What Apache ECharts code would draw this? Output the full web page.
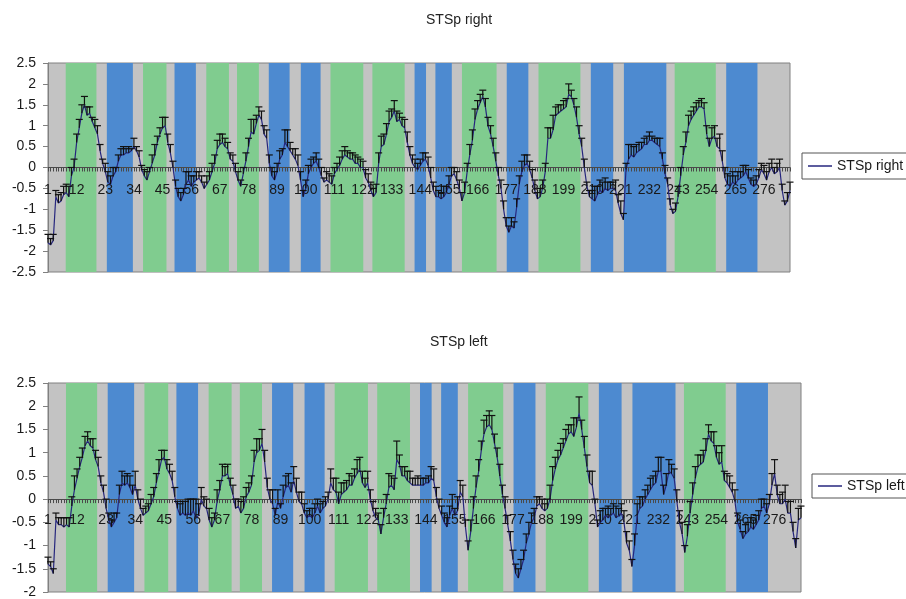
<!DOCTYPE html>
<html>
<head>
<meta charset="utf-8">
<script src="https://cdn.jsdelivr.net/npm/echarts@6/dist/echarts.min.js"></script>
<style>
html,body{margin:0;padding:0;background:#fff;}
#chart{width:906px;height:599px;}
</style>
</head>
<body>
<div id="chart"></div>
<script>
// ---- data ----
const seriesNames = ['STSp right', 'STSp left'];

const rightMean = [
 -1.8,-1.85,-1.75,-0.7,-0.85,-0.8,-0.65,-0.6,-0.7,-0.2,
 0.0,0.6,0.95,1.3,1.5,1.25,1.3,1.1,0.95,0.8,
 0.4,0.1,-0.1,-0.35,-0.4,-0.2,-0.1,0.15,0.3,0.3,
 0.35,0.35,0.4,0.5,0.4,0.25,-0.05,-0.2,-0.3,-0.1,
 0.1,0.3,0.6,0.8,0.95,1.0,0.6,0.35,0.0,-0.45,
 -0.7,-0.8,-0.65,-0.4,-0.3,-0.45,-0.35,-0.3,-0.25,-0.35,
 -0.5,-0.4,-0.3,-0.1,0.1,0.45,0.55,0.6,0.5,0.45,
 0.2,0.15,-0.1,-0.3,-0.45,-0.15,0.15,0.5,0.85,0.8,
 1.05,1.25,1.15,0.8,0.7,0.1,-0.2,-0.3,-0.1,0.2,
 0.3,0.6,0.5,0.4,0.3,0.2,0.05,-0.3,-0.7,-0.5,
 -0.15,0.0,0.1,0.15,0.0,-0.2,-0.35,-0.3,-0.35,-0.4,
 -0.15,-0.05,0.05,0.2,0.3,0.25,0.2,0.2,0.1,0.1,
 0.0,0.0,-0.25,-0.35,-0.55,-0.7,-0.6,0.1,0.5,0.55,
 0.8,1.1,1.2,1.35,1.1,1.15,1.0,0.95,0.6,0.3,
 0.1,0.0,-0.05,0.05,0.15,0.2,0.05,-0.25,-0.55,-0.7,
 -0.7,-0.75,-0.7,-0.6,-0.4,-0.2,-0.15,-0.3,-0.5,-0.8,
 -0.6,-0.1,0.3,0.65,1.15,1.4,1.55,1.7,1.45,1.0,
 0.8,0.5,0.15,-0.2,-0.5,-1.0,-1.4,-1.55,-1.4,-1.45,
 -0.95,-0.4,-0.1,0.05,0.1,-0.05,-0.25,-0.55,-0.75,-0.7,
 -0.5,-0.1,0.7,0.7,0.9,1.25,1.3,1.35,1.4,1.45,
 1.75,1.7,1.5,1.2,0.8,0.5,0.0,-0.45,-0.7,-0.75,
 -0.8,-0.65,-0.55,-0.6,-0.5,-0.55,-0.5,-0.5,-0.55,-0.85,
 -1.1,-1.25,-0.05,0.2,0.3,0.25,0.35,0.4,0.45,0.55,
 0.55,0.65,0.65,0.6,0.55,0.5,0.2,-0.15,-0.4,-0.9,
 -1.1,-1.05,-0.7,-0.2,0.3,0.6,1.0,1.15,1.25,1.35,
 1.45,1.45,1.4,0.8,0.5,0.7,0.75,0.5,0.45,0.15,
 -0.25,-0.4,-0.45,-0.35,-0.4,-0.3,-0.25,-0.2,-0.1,-0.25,
 -0.4,-0.45,-0.4,-0.25,-0.05,-0.15,-0.3,-0.1,0.0,-0.15,
 -0.1,0.0,-0.55,-0.9,-0.8,-0.55
];
const rightErr = [
 0.2,0.15,0.15,0.15,0.2,0.2,0.2,0.2,0.25,0.2,
 0.2,0.2,0.2,0.2,0.2,0.2,0.15,0.1,0.2,0.2,
 0.15,0.1,0.2,0.25,0.2,0.2,0.1,0.15,0.15,0.2,
 0.1,0.15,0.05,0.2,0.1,0.15,0.1,0.15,0.2,0.1,
 0.2,0.25,0.15,0.15,0.25,0.2,0.2,0.2,0.15,0.15,
 0.2,0.2,0.15,0.3,0.2,0.25,0.15,0.2,0.15,0.15,
 0.15,0.2,0.2,0.2,0.2,0.2,0.25,0.2,0.2,0.15,
 0.15,0.15,0.2,0.2,0.15,0.15,0.2,0.2,0.3,0.35,
 0.2,0.2,0.2,0.2,0.2,0.2,0.2,0.2,0.2,0.2,
 0.15,0.3,0.4,0.2,0.15,0.25,0.25,0.2,0.15,0.2,
 0.2,0.2,0.15,0.2,0.2,0.2,0.1,0.2,0.2,0.2,
 0.15,0.15,0.2,0.2,0.2,0.15,0.15,0.15,0.2,0.15,
 0.2,0.15,0.2,0.2,0.2,0.2,0.2,0.25,0.25,0.25,
 0.25,0.25,0.2,0.25,0.25,0.15,0.2,0.2,0.25,0.2,
 0.2,0.2,0.15,0.15,0.2,0.15,0.2,0.25,0.2,0.25,
 0.15,0.15,0.25,0.15,0.2,0.2,0.15,0.2,0.2,0.2,
 0.25,0.2,0.25,0.25,0.25,0.2,0.2,0.15,0.2,0.2,
 0.2,0.2,0.2,0.2,0.2,0.2,0.2,0.15,0.2,0.15,
 0.2,0.2,0.25,0.25,0.2,0.2,0.2,0.25,0.15,0.2,
 0.2,0.2,0.25,0.25,0.35,0.2,0.2,0.15,0.2,0.2,
 0.25,0.15,0.15,0.25,0.2,0.2,0.2,0.1,0.15,0.2,
 0.35,0.2,0.25,0.25,0.25,0.2,0.15,0.15,0.25,0.2,
 0.3,0.15,0.15,0.35,0.25,0.25,0.2,0.2,0.15,0.15,
 0.2,0.2,0.1,0.1,0.15,0.2,0.15,0.2,0.15,0.15,
 0.1,0.2,0.25,0.2,0.2,0.25,0.25,0.2,0.2,0.2,
 0.15,0.2,0.15,0.2,0.2,0.25,0.25,0.2,0.35,0.25,
 0.25,0.25,0.25,0.25,0.2,0.2,0.15,0.25,0.15,0.2,
 0.15,0.15,0.2,0.2,0.15,0.2,0.2,0.2,0.2,0.15,
 0.2,0.2,0.15,0.1,0.2,0.2
];
const leftMean = [
 -1.4,-1.45,-1.6,-0.45,-0.55,-0.55,-0.6,-0.55,-0.6,-0.15,
 0.2,0.45,0.7,0.9,1.15,1.25,1.15,1.1,0.85,0.7,
 0.35,0.15,-0.2,-0.45,-0.6,-0.5,-0.4,0.1,0.35,0.3,
 0.35,0.25,0.1,0.3,0.0,-0.2,-0.35,-0.3,-0.25,-0.1,
 0.05,0.35,0.6,0.85,0.9,0.65,0.55,0.4,0.05,-0.2,
 -0.35,-0.3,-0.35,-0.3,-0.35,-0.25,-0.4,-0.35,0.0,-0.15,
 -0.2,-0.45,-0.6,-0.45,-0.05,0.2,0.5,0.5,0.55,0.3,
 0.1,-0.2,-0.15,-0.3,-0.2,0.05,0.15,0.3,0.8,1.0,
 1.05,1.2,0.8,0.25,0.0,-0.1,-0.35,-0.05,-0.2,0.05,
 0.25,0.3,0.15,0.4,0.15,-0.05,-0.1,-0.3,-0.4,-0.35,
 -0.4,-0.3,-0.15,-0.3,-0.2,-0.15,0.0,0.35,0.2,0.15,
 -0.1,0.1,0.15,0.2,0.3,0.3,0.45,0.55,0.65,0.35,
 0.25,0.35,0.0,-0.25,-0.4,-0.45,-0.75,-0.4,-0.1,0.25,
 0.3,0.2,0.85,0.75,0.5,0.5,0.4,0.35,0.3,0.3,
 0.3,0.3,0.3,0.35,0.35,0.45,0.4,0.05,-0.2,-0.35,
 -0.5,-0.6,-0.35,-0.2,-0.35,-0.25,0.15,0.05,-0.6,-1.1,
 -0.7,-0.2,0.25,0.6,1.05,1.4,1.55,1.6,1.5,1.2,
 0.9,0.5,0.1,-0.2,-0.55,-0.9,-1.3,-1.6,-1.7,-1.5,
 -1.3,-0.95,-0.75,-0.5,-0.4,-0.15,-0.1,-0.2,-0.25,-0.2,
 0.0,0.4,0.65,0.85,0.95,1.1,1.25,1.4,1.45,1.35,
 1.55,1.85,1.5,1.1,0.7,0.35,0.3,-0.1,-0.6,-0.5,
 -0.45,-0.35,-0.4,-0.35,-0.3,-0.4,-0.35,-0.3,-0.5,-0.95,
 -1.1,-1.45,-1.0,-0.35,-0.2,-0.15,0.0,0.1,0.2,0.3,
 0.35,0.6,0.6,0.1,0.3,0.6,0.55,0.45,-0.05,-0.5,
 -0.75,-1.15,-0.8,-0.3,0.1,0.45,0.7,0.75,0.8,1.05,
 1.4,1.25,1.2,0.9,0.75,0.8,0.4,0.35,0.25,0.15,
 -0.05,-0.5,-0.65,-0.85,-0.75,-0.7,-0.6,-0.65,-0.55,-0.45,
 -0.2,-0.15,-0.3,-0.1,0.3,0.55,0.1,-0.1,-0.1,0.0,
 -0.3,-0.3,-0.7,-1.05,-0.45,-0.4
];
const leftErr = [
 0.15,0.1,0.1,0.15,0.15,0.15,0.2,0.15,0.2,0.2,
 0.3,0.2,0.2,0.2,0.2,0.2,0.15,0.2,0.2,0.2,
 0.15,0.15,0.2,0.15,0.15,0.2,0.1,0.2,0.25,0.2,
 0.2,0.25,0.2,0.3,0.2,0.2,0.15,0.15,0.15,0.2,
 0.2,0.2,0.25,0.2,0.15,0.2,0.2,0.2,0.2,0.15,
 0.25,0.25,0.3,0.3,0.35,0.25,0.4,0.25,0.25,0.2,
 0.2,0.25,0.2,0.15,0.25,0.2,0.25,0.2,0.2,0.15,
 0.2,0.2,0.15,0.25,0.25,0.2,0.2,0.2,0.25,0.3,
 0.25,0.3,0.25,0.2,0.2,0.3,0.15,0.25,0.1,0.25,
 0.25,0.25,0.2,0.3,0.3,0.2,0.25,0.2,0.15,0.15,
 0.2,0.2,0.15,0.2,0.15,0.2,0.15,0.3,0.25,0.3,
 0.25,0.25,0.2,0.2,0.25,0.2,0.2,0.3,0.25,0.25,
 0.2,0.25,0.2,0.2,0.2,0.15,0.2,0.2,0.2,0.3,
 0.2,0.25,0.4,0.2,0.2,0.2,0.2,0.25,0.15,0.15,
 0.2,0.15,0.15,0.1,0.15,0.25,0.25,0.2,0.2,0.2,
 0.2,0.2,0.2,0.3,0.15,0.3,0.25,0.25,0.15,0.2,
 0.25,0.25,0.25,0.25,0.2,0.3,0.25,0.3,0.3,0.2,
 0.2,0.25,0.2,0.25,0.2,0.2,0.2,0.2,0.2,0.2,
 0.2,0.2,0.25,0.2,0.2,0.2,0.15,0.2,0.15,0.2,
 0.3,0.3,0.25,0.2,0.25,0.2,0.25,0.2,0.15,0.4,
 0.2,0.35,0.2,0.25,0.25,0.25,0.3,0.1,0.15,0.25,
 0.25,0.15,0.25,0.15,0.2,0.25,0.15,0.2,0.25,0.25,
 0.2,0.15,0.25,0.25,0.25,0.2,0.2,0.2,0.25,0.2,
 0.25,0.3,0.3,0.2,0.25,0.25,0.2,0.2,0.25,0.25,
 0.25,0.15,0.25,0.25,0.25,0.25,0.25,0.2,0.25,0.25,
 0.2,0.2,0.25,0.25,0.25,0.35,0.2,0.2,0.25,0.2,
 0.25,0.2,0.2,0.15,0.2,0.2,0.2,0.2,0.2,0.2,
 0.2,0.15,0.2,0.2,0.25,0.3,0.2,0.2,0.25,0.3,
 0.25,0.25,0.2,0.2,0.25,0.25
];

// condition blocks (in point-index units, 0 = point 1)
const bandStart = [6.8,22.6,36.5,48.6,60.8,72.6,84.8,97.1,108.5,124.6,140.8,148.8,159,176.2,188.4,208.5,221.2,240.7,260.5];
const bandEnd   = [18.6,32.6,45.5,56.8,69.5,81,92.8,104.7,121.1,137,145.2,155.1,172.3,184.5,204.5,217.1,237.5,256.5,272.5];
const bandKind  = ['G','B','G','B','G','G','B','B','G','G','B','B','G','B','G','B','B','G','B'];

const labelStep = 11;   // x tick labels: 1, 12, 23, ... 276

// ---- chart ----
const FONT = 'Liberation Sans, Arial, sans-serif';
const bandColor = {G: '#80cc8f', B: '#4d8ad0'};
const lineColor = '#26267e';

function bandsData() {
  return bandStart.map((s, k) => [
    {xAxis: s, itemStyle: {color: bandColor[bandKind[k]], opacity: 1}},
    {xAxis: bandEnd[k]}
  ]);
}

function errRender(params, api) {
  const x = api.value(0), y = api.value(1), e = api.value(2);
  const p0 = api.coord([x, y]);
  const p1 = api.coord([x, y + e]);
  const hw = 3.5;
  const st = {stroke: '#111', lineWidth: 1.2};
  return {
    type: 'group',
    children: [
      {type: 'line', shape: {x1: p0[0], y1: p0[1], x2: p1[0], y2: p1[1]}, style: st},
      {type: 'line', shape: {x1: p1[0] - hw, y1: p1[1], x2: p1[0] + hw, y2: p1[1]}, style: st}
    ]
  };
}

function makeX(gridIndex, margin) {
  return {
    type: 'value', gridIndex: gridIndex, min: 0, max: rightMean.length - 1, interval: labelStep,
    z: 2,
    axisLine: {show: true, onZero: true, lineStyle: {color: '#4a4a4a', width: 1}},
    axisTick: {show: true, length: 4, lineStyle: {color: '#4a4a4a'}},
    minorTick: {show: true, splitNumber: labelStep, length: 4, lineStyle: {color: '#4a4a4a'}},
    splitLine: {show: false},
    minorSplitLine: {show: false},
    axisLabel: {
      show: true, margin: margin, fontSize: 14, fontFamily: FONT, color: '#1a1a1a',
      showMaxLabel: false, hideOverlap: false,
      formatter: v => String(v + 1)
    }
  };
}
function makeY(gridIndex, min, max) {
  return {
    type: 'value', gridIndex: gridIndex, min: min, max: max, interval: 0.5,
    z: 2,
    axisLine: {show: true, onZero: false, lineStyle: {color: '#808080'}},
    axisTick: {show: true, length: 5, lineStyle: {color: '#808080'}},
    splitLine: {show: false},
    axisLabel: {fontSize: 14, fontFamily: FONT, color: '#1a1a1a', margin: 12}
  };
}

const chart = echarts.init(document.getElementById('chart'), null, {renderer: 'canvas'});
chart.setOption({
  animation: false,
  backgroundColor: '#ffffff',
  title: [
    {text: seriesNames[0], left: 421, top: 8, textStyle: {fontSize: 14, fontWeight: 'normal', fontFamily: FONT, color: '#222'}},
    {text: seriesNames[1], left: 425, top: 330, textStyle: {fontSize: 14, fontWeight: 'normal', fontFamily: FONT, color: '#222'}}
  ],
  legend: [
    {data: [seriesNames[0]], left: 802, top: 153, padding: [6, 6, 6, 6], icon: 'rect', itemWidth: 24, itemHeight: 1.5,
     borderColor: '#555', borderWidth: 1, backgroundColor: '#fff', borderRadius: 0,
     textStyle: {fontSize: 14, fontFamily: FONT, color: '#1a1a1a'}},
    {data: [seriesNames[1]], left: 812, top: 474, padding: [5, 6, 5, 6], icon: 'rect', itemWidth: 24, itemHeight: 1.5,
     borderColor: '#555', borderWidth: 1, backgroundColor: '#fff', borderRadius: 0,
     textStyle: {fontSize: 14, fontFamily: FONT, color: '#1a1a1a'}}
  ],
  grid: [
    {left: 48, right: 116, top: 63, height: 209, show: true, backgroundColor: '#c3c3c3', borderColor: '#808080', borderWidth: 1, containLabel: false, outerBoundsMode: 'none'},
    {left: 48, right: 105, top: 383, height: 209, show: true, backgroundColor: '#c3c3c3', borderColor: '#808080', borderWidth: 1, containLabel: false, outerBoundsMode: 'none'}
  ],
  xAxis: [makeX(0, -89), makeX(1, -79)],
  yAxis: [makeY(0, -2.5, 2.5), makeY(1, -2, 2.5)],
  series: [
    {
      name: seriesNames[0], type: 'line', xAxisIndex: 0, yAxisIndex: 0,
      data: rightMean.map((v, i) => [i, v]),
      symbol: 'none', lineStyle: {color: lineColor, width: 1.2}, itemStyle: {color: lineColor}, z: 3,
      markArea: {silent: true, z: 1, data: bandsData()}
    },
    {
      name: 'errR', type: 'custom', xAxisIndex: 0, yAxisIndex: 0, z: 4,
      data: rightMean.map((v, i) => [i, v, rightErr[i]]),
      encode: {x: 0, y: 1}, renderItem: errRender, silent: true
    },
    {
      name: seriesNames[1], type: 'line', xAxisIndex: 1, yAxisIndex: 1,
      data: leftMean.map((v, i) => [i, v]),
      symbol: 'none', lineStyle: {color: lineColor, width: 1.2}, itemStyle: {color: lineColor}, z: 3,
      markArea: {silent: true, z: 1, data: bandsData()}
    },
    {
      name: 'errL', type: 'custom', xAxisIndex: 1, yAxisIndex: 1, z: 4,
      data: leftMean.map((v, i) => [i, v, leftErr[i]]),
      encode: {x: 0, y: 1}, renderItem: errRender, silent: true
    }
  ]
});
</script>
</body>
</html>
